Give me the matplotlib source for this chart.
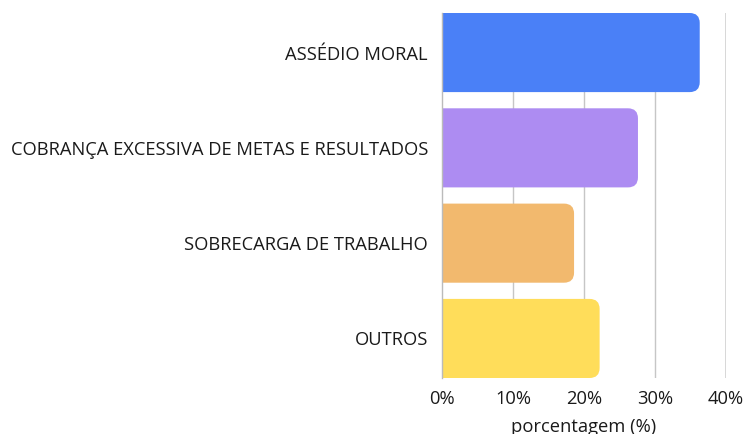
import matplotlib.pyplot as plt
from matplotlib.path import Path
from matplotlib.patches import PathPatch

plt.rcParams['font.family'] = ['Open Sans', 'DejaVu Sans']

categories = ['ASSÉDIO MORAL', 'COBRANÇA EXCESSIVA DE METAS E RESULTADOS',
              'SOBRECARGA DE TRABALHO', 'OUTROS']
values = [36.3, 27.6, 18.6, 22.2]
colors = ['#4a80f7', '#ad8cf2', '#f2b96e', '#ffdd5a']
ticks = [0, 10, 20, 30, 40]
tick_labels = ['0%', '10%', '20%', '30%', '40%']

W, H, DPI = 7.43, 4.34, 100
fig = plt.figure(figsize=(W, H), dpi=DPI)
ax = fig.add_axes([442 / 743, 1 - 378 / 434, (726 - 442) / 743, (378 - 13) / 434])

bar_h = 0.83
ypos = list(range(len(categories)))
ax.set_xlim(0, 40)
ax.set_ylim(len(categories) - 1 + bar_h / 2, -bar_h / 2)

# rounded right corners, radius in pixels converted to data units
ax_w_px = (726 - 442)
ax_h_px = (378 - 13)
r_px = 10
rx = r_px * 40 / ax_w_px
ry = r_px * (len(categories) - 1 + bar_h) / ax_h_px

for y, v, c in zip(ypos, values, colors):
    b0, b1 = y - bar_h / 2, y + bar_h / 2
    verts = [(0, b0), (v - rx, b0), (v, b0), (v, b0 + ry),
             (v, b1 - ry), (v, b1), (v - rx, b1), (0, b1), (0, b0)]
    codes = [Path.MOVETO, Path.LINETO, Path.CURVE3, Path.CURVE3,
             Path.LINETO, Path.CURVE3, Path.CURVE3, Path.LINETO, Path.CLOSEPOLY]
    ax.add_patch(PathPatch(Path(verts, codes), facecolor=c, edgecolor='none', zorder=3))

ax.set_yticks(ypos)
ax.set_yticklabels(categories, fontsize=13.2, color='#1a1a1a')
ax.set_xticks(ticks)
ax.set_xticklabels(tick_labels, fontsize=13.2, color='#1a1a1a')
ax.tick_params(axis='y', length=0, pad=10)
ax.tick_params(axis='x', length=0, pad=9)

for t in ticks[1:-1]:
    ax.axvline(t, color='#c6c6c6', lw=1, zorder=1)
ax.axvline(40, color='#d4d4d4', lw=2, zorder=1)

for s in ['top', 'right', 'bottom']:
    ax.spines[s].set_visible(False)
ax.spines['left'].set_color('#bbbbbb')
ax.spines['left'].set_linewidth(1)
ax.spines['left'].set_zorder(4)

ax.set_xlabel('porcentagem (%)', fontsize=13.2, color='#1a1a1a', labelpad=7)

fig.savefig('out.png', dpi=DPI)
